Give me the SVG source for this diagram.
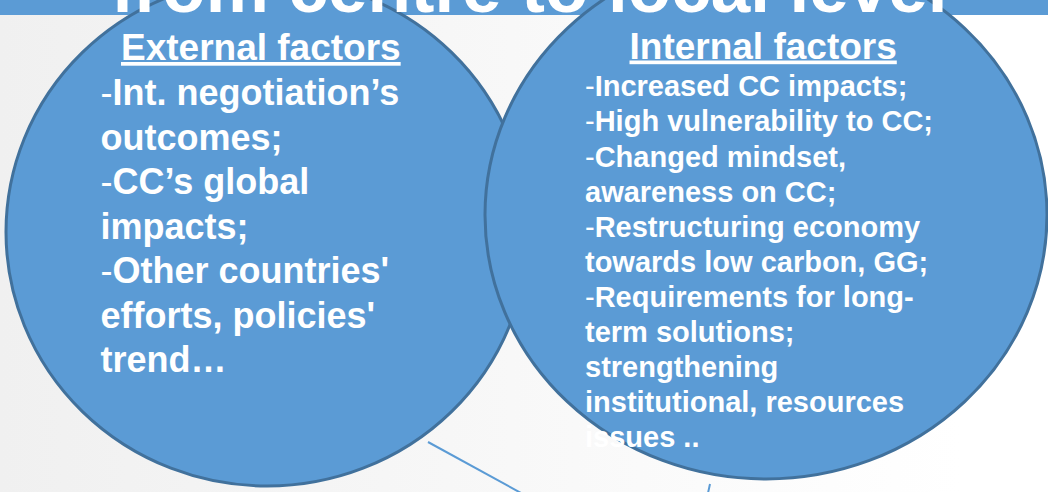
<svg xmlns="http://www.w3.org/2000/svg" width="1048" height="492" viewBox="0 0 1048 492">
  <defs>
    <linearGradient id="bg" x1="0" y1="0" x2="960" y2="0" gradientUnits="userSpaceOnUse">
      <stop offset="0" stop-color="#f0f0f0"/>
      <stop offset="1" stop-color="#ffffff"/>
    </linearGradient>
    <style>
      .circle { fill: #5b9bd5; stroke: #41719c; stroke-width: 3; }
      .t { font-family: "Liberation Sans", Arial, sans-serif; font-weight: bold; fill: #ffffff; }
      .head { font-size: 37px; text-decoration: underline; }
      .bodyL { font-size: 36px; }
      .bodyR { font-size: 29px; }
      .dash { font-weight: normal; }
      .conn { stroke: #5b9bd5; stroke-width: 2; fill: none; }
    </style>
  </defs>
  <rect x="0" y="0" width="1048" height="492" fill="url(#bg)"/>
  <rect x="0" y="0" width="1048" height="15" fill="#5b9bd5"/>

  <g id="connectors">
    <line class="conn" x1="428" y1="442" x2="521" y2="493"/>
    <line class="conn" x1="710" y1="484" x2="708" y2="493"/>
  </g>

  <g id="external-factors">
    <ellipse class="circle" cx="267" cy="232" rx="261" ry="254"/>
    <text class="t head" x="121" y="60">External factors</text>
    <text class="t bodyL">
      <tspan x="100.5" y="105"><tspan class="dash">-</tspan>Int. negotiation’s</tspan>
      <tspan x="100.5" y="149.5">outcomes;</tspan>
      <tspan x="100.5" y="194"><tspan class="dash">-</tspan>CC’s global</tspan>
      <tspan x="100.5" y="238.5">impacts;</tspan>
      <tspan x="100.5" y="283"><tspan class="dash">-</tspan>Other countries'</tspan>
      <tspan x="100.5" y="327.5">efforts, policies'</tspan>
      <tspan x="100.5" y="372">trend…</tspan>
    </text>
  </g>

  <g id="internal-factors">
    <ellipse class="circle" cx="766" cy="215" rx="281" ry="264"/>
    <text class="t head" x="629.5" y="58.5">Internal factors</text>
    <text class="t bodyR">
      <tspan x="585" y="96"><tspan class="dash">-</tspan>Increased CC impacts;</tspan>
      <tspan x="585" y="131"><tspan class="dash">-</tspan>High vulnerability to CC;</tspan>
      <tspan x="585" y="166.5"><tspan class="dash">-</tspan>Changed mindset,</tspan>
      <tspan x="585" y="201.5">awareness on CC;</tspan>
      <tspan x="585" y="236.5"><tspan class="dash">-</tspan>Restructuring economy</tspan>
      <tspan x="585" y="271.5">towards low carbon, GG;</tspan>
      <tspan x="585" y="306.5"><tspan class="dash">-</tspan>Requirements for long-</tspan>
      <tspan x="585" y="341.5">term solutions;</tspan>
      <tspan x="585" y="376.5">strengthening</tspan>
      <tspan x="585" y="411.5">institutional, resources</tspan>
      <tspan x="585" y="447">issues ..</tspan>
    </text>
  </g>

  <g id="title">
    <text class="t" x="111" y="12" font-size="71">from centre to local level</text>
  </g>
</svg>
